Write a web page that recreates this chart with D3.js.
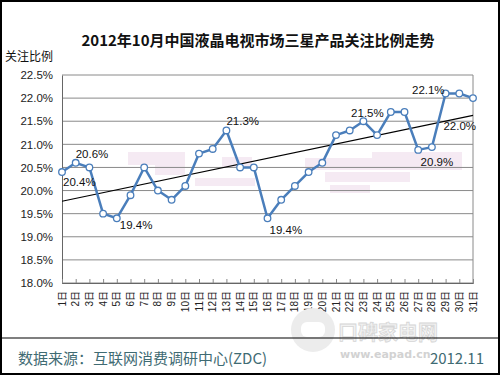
<!DOCTYPE html>
<html lang="zh">
<head>
    <meta charset="UTF-8">
    <title>2012年10月中国液晶电视市场三星产品关注比例走势</title>
    <script src="https://d3js.org/d3.v7.min.js"></script>
    <style>
        body { margin: 0; background: #fff; }
        svg { display: block; }
    </style>
</head>
<body>
<script>
    // data
    var days = d3.range(1, 32).map(function(d){ return d + "日"; });
    var share = [20.4, 20.6, 20.5, 19.5, 19.4, 19.9, 20.5, 20.0, 19.8, 20.1,
                 20.8, 20.9, 21.3, 20.5, 20.5, 19.4, 19.8, 20.1, 20.4, 20.6,
                 21.2, 21.3, 21.5, 21.2, 21.7, 21.7, 20.88, 20.94, 22.1, 22.1, 22.0];
    var yTicks = [18.0, 18.5, 19.0, 19.5, 20.0, 20.5, 21.0, 21.5, 22.0, 22.5];
    var labelled = [0, 1, 4, 12, 15, 22, 27, 28, 30];

    var w = 500;
    var h = 375;
    var plotL = 62, plotR = 473, plotT = 75, plotB = 283;

    var svg = d3.select("body")
        .append("svg")
        .attr("width", w)
        .attr("height", h);

    svg.append("rect")
        .attr("x", 1).attr("y", 1)
        .attr("width", w - 2).attr("height", h - 2)
        .attr("fill", "#fff")
        .attr("stroke", "#000")
        .attr("stroke-width", 2);

    var x = d3.scalePoint()
        .domain(days)
        .range([plotL, plotR]);

    var y = d3.scaleLinear()
        .domain([18, 22.5])
        .range([plotB, plotT]);

    // faint watermark blocks behind the plot
    var wm = [[128, 152, 57, 13], [155, 165, 30, 10], [222, 157, 30, 10],
              [195, 178, 60, 8], [305, 158, 70, 12], [325, 172, 85, 10],
              [330, 185, 40, 8], [372, 152, 90, 18]];
    svg.selectAll("rect.wm")
        .data(wm)
        .enter()
        .append("rect")
        .attr("class", "wm")
        .attr("x", function(d){ return d[0]; })
        .attr("y", function(d){ return d[1]; })
        .attr("width", function(d){ return d[2]; })
        .attr("height", function(d){ return d[3]; })
        .attr("fill", "#f5eaf3");

    // gridlines
    svg.selectAll("line.grid")
        .data(yTicks)
        .enter()
        .append("line")
        .attr("class", "grid")
        .attr("x1", plotL)
        .attr("x2", plotR)
        .attr("y1", function(d){ return y(d); })
        .attr("y2", function(d){ return y(d); })
        .attr("stroke", "#8a8a8a")
        .attr("stroke-width", 1);

    svg.append("line")
        .attr("x1", plotR).attr("x2", plotR)
        .attr("y1", plotT).attr("y2", plotB)
        .attr("stroke", "#8a8a8a");

    // y axis
    var yAxis = d3.axisLeft(y)
        .tickValues(yTicks)
        .tickSize(0)
        .tickPadding(9)
        .tickFormat(function(d){ return d3.format(".1f")(d) + "%"; });

    svg.append("g")
        .attr("transform", "translate(" + plotL + ",0)")
        .call(yAxis)
        .call(function(g){
            g.select(".domain").attr("stroke", "#666");
            g.selectAll("text")
                .attr("fill", "#222")
                .style("font-family", "'Liberation Sans', Arial, sans-serif")
                .style("font-size", "11.5px");
        });

    // x axis, ticks pointing into the plot
    var xAxis = d3.axisBottom(x)
        .tickSize(-4)
        .tickFormat("");

    svg.append("g")
        .attr("transform", "translate(0," + plotB + ")")
        .call(xAxis)
        .call(function(g){
            g.select(".domain").attr("stroke", "#666");
            g.selectAll(".tick line").attr("stroke", "#888");
        });

    svg.selectAll("text.day")
        .data(days)
        .enter()
        .append("text")
        .attr("class", "day")
        .attr("transform", function(d){
            return "translate(" + x(d) + ",291) rotate(-90)";
        })
        .attr("dy", "0.35em")
        .attr("text-anchor", "end")
        .style("font-family", "'Liberation Sans', 'Noto Sans CJK SC', sans-serif")
        .style("font-size", "10px")
        .attr("fill", "#222")
        .text(function(d){ return d; });

    // linear trend line
    var pts = share.map(function(v, i){ return [i, v]; });
    var mx = d3.mean(pts, function(p){ return p[0]; });
    var my = d3.mean(pts, function(p){ return p[1]; });
    var slope = d3.sum(pts, function(p){ return (p[0] - mx) * (p[1] - my); }) /
                d3.sum(pts, function(p){ return (p[0] - mx) * (p[0] - mx); });
    var icpt = my - slope * mx;

    svg.append("line")
        .attr("x1", x(days[0]))
        .attr("y1", y(icpt))
        .attr("x2", x(days[days.length - 1]))
        .attr("y2", y(icpt + slope * (days.length - 1)))
        .attr("stroke", "#000")
        .attr("stroke-width", 1.2);

    // series
    var line = d3.line()
        .x(function(d, i){ return x(days[i]); })
        .y(function(d){ return y(d); });

    svg.append("path")
        .datum(share)
        .attr("d", line)
        .attr("fill", "none")
        .attr("stroke", "#4a7ebb")
        .attr("stroke-width", 2.5)
        .attr("stroke-linejoin", "round");

    svg.selectAll("circle.pt")
        .data(share)
        .enter()
        .append("circle")
        .attr("class", "pt")
        .attr("cx", function(d, i){ return x(days[i]); })
        .attr("cy", function(d){ return y(d); })
        .attr("r", 3.3)
        .attr("fill", "#fff")
        .attr("stroke", "#4a7ebb")
        .attr("stroke-width", 1.3);

    // data labels: [dx, dy, anchor] relative to the point
    var spots = {
        0:  [1, 14, "start"],
        1:  [0, -5, "start"],
        4:  [3, 11, "start"],
        12: [0, -5, "start"],
        15: [2, 16, "start"],
        22: [4, -4, "middle"],
        27: [5, 19, "middle"],
        28: [-1, 1, "end"],
        30: [3, 32, "end"]
    };

    svg.selectAll("text.val")
        .data(labelled)
        .enter()
        .append("text")
        .attr("class", "val")
        .attr("x", function(i){ return x(days[i]) + spots[i][0]; })
        .attr("y", function(i){ return y(share[i]) + spots[i][1]; })
        .attr("text-anchor", function(i){ return spots[i][2]; })
        .style("font-family", "'Liberation Sans', Arial, sans-serif")
        .style("font-size", "11.5px")
        .attr("fill", "#111")
        .text(function(i){ return d3.format(".1f")(share[i]) + "%"; });

    // titles
    svg.append("text")
        .attr("x", 258)
        .attr("y", 46)
        .attr("text-anchor", "middle")
        .style("font-family", "'Noto Sans CJK SC', sans-serif")
        .style("font-size", "15px")
        .style("font-weight", "bold")
        .attr("fill", "#111")
        .text("2012年10月中国液晶电视市场三星产品关注比例走势");

    svg.append("text")
        .attr("x", 5)
        .attr("y", 61)
        .style("font-family", "'Noto Sans CJK SC', sans-serif")
        .style("font-size", "12px")
        .attr("fill", "#111")
        .text("关注比例");

    // watermark logo at the bottom
    svg.append("circle")
        .attr("cx", 313).attr("cy", 330).attr("r", 22)
        .attr("fill", "#ececec");
    svg.append("rect")
        .attr("x", 301).attr("y", 322).attr("width", 24).attr("height", 15)
        .attr("rx", 6)
        .attr("fill", "#fff");
    svg.append("text")
        .attr("x", 338).attr("y", 340)
        .style("font-family", "'Noto Sans CJK SC', sans-serif")
        .style("font-size", "20px")
        .style("font-weight", "bold")
        .attr("fill", "#f2f2f2")
        .attr("stroke", "#d6d6d6")
        .attr("stroke-width", 0.8)
        .text("口碑家电网");
    svg.append("text")
        .attr("x", 340).attr("y", 358)
        .style("font-family", "'DejaVu Sans', sans-serif")
        .style("font-size", "11px")
        .style("font-weight", "bold")
        .attr("fill", "#d2d2d2")
        .text("www.eapad.cn");

    // footer
    svg.append("line")
        .attr("x1", 0).attr("x2", w)
        .attr("y1", 338).attr("y2", 338)
        .attr("stroke", "#000")
        .attr("stroke-width", 1.2);

    svg.append("text")
        .attr("x", 18)
        .attr("y", 364)
        .style("font-family", "'Noto Sans CJK SC', sans-serif")
        .style("font-size", "15px")
        .attr("fill", "#3f6b73")
        .text("数据来源：互联网消费调研中心(ZDC)");

    svg.append("text")
        .attr("x", 484)
        .attr("y", 364)
        .attr("text-anchor", "end")
        .style("font-family", "'Noto Sans CJK SC', sans-serif")
        .style("font-size", "15px")
        .attr("fill", "#3f6b73")
        .text("2012.11");
</script>
</body>
</html>
